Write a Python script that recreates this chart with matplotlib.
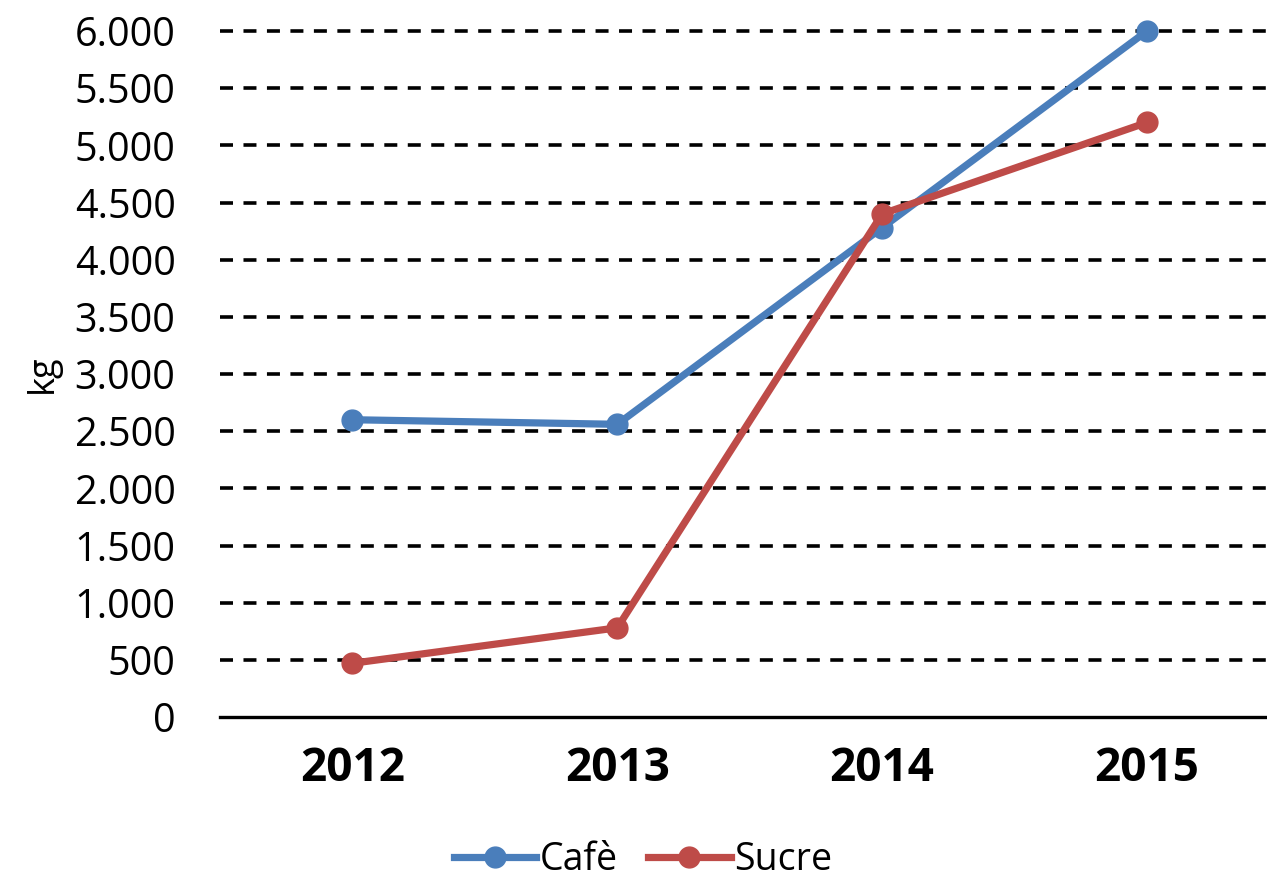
import matplotlib
matplotlib.use('Agg')
from matplotlib import pyplot as plt
from matplotlib.ticker import FuncFormatter

years = ['2012', '2013', '2014', '2015']
cafe = [2600, 2560, 4280, 6000]
sucre = [470, 780, 4400, 5200]
yticks = list(range(0, 6001, 500))

plt.rcParams['font.family'] = ['Open Sans', 'DejaVu Sans']

fig = plt.figure(figsize=(12.67, 8.81), dpi=100)
ax = fig.add_axes([220 / 1267, 1 - 717 / 881, 1 - 220 / 1267, (717 - 31) / 881])

x = range(len(years))
ax.plot(x, cafe, color='#4A7EBB', lw=5.2, marker='o', ms=15, label='Cafè', zorder=3, clip_on=False)
ax.plot(x, sucre, color='#BE4B48', lw=5.2, marker='o', ms=15, label='Sucre', zorder=4, clip_on=False)

# dashed gridlines, drawn by hand so the top one is not clipped
for t in yticks[1:]:
    ax.axhline(t, color='black', lw=2.6, linestyle=(0, (3.6, 2.9)), zorder=1, clip_on=False)

ax.set_ylim(0, 6000)
ax.set_xlim(-0.5, 3.453)
ax.set_yticks(yticks)
ax.yaxis.set_major_formatter(FuncFormatter(lambda v, p: f'{int(v):,}'.replace(',', '.')))
ax.set_xticks(list(x))
ax.set_xticklabels(years, fontsize=33, fontweight='bold')
ax.tick_params(axis='y', labelsize=28.5, length=0, pad=32)
ax.tick_params(axis='x', length=0, pad=20)
for s in ['left', 'right', 'top']:
    ax.spines[s].set_visible(False)
ax.spines['bottom'].set_linewidth(2.4)
ax.set_ylabel('kg', fontsize=26, labelpad=10)

fig.legend(loc='center', bbox_to_anchor=(643 / 1267, 1 - 860 / 881), ncol=2, frameon=False,
           fontsize=27, handlelength=2.2, handletextpad=0.1, columnspacing=0.8)

fig.savefig('out.png', dpi=100)
